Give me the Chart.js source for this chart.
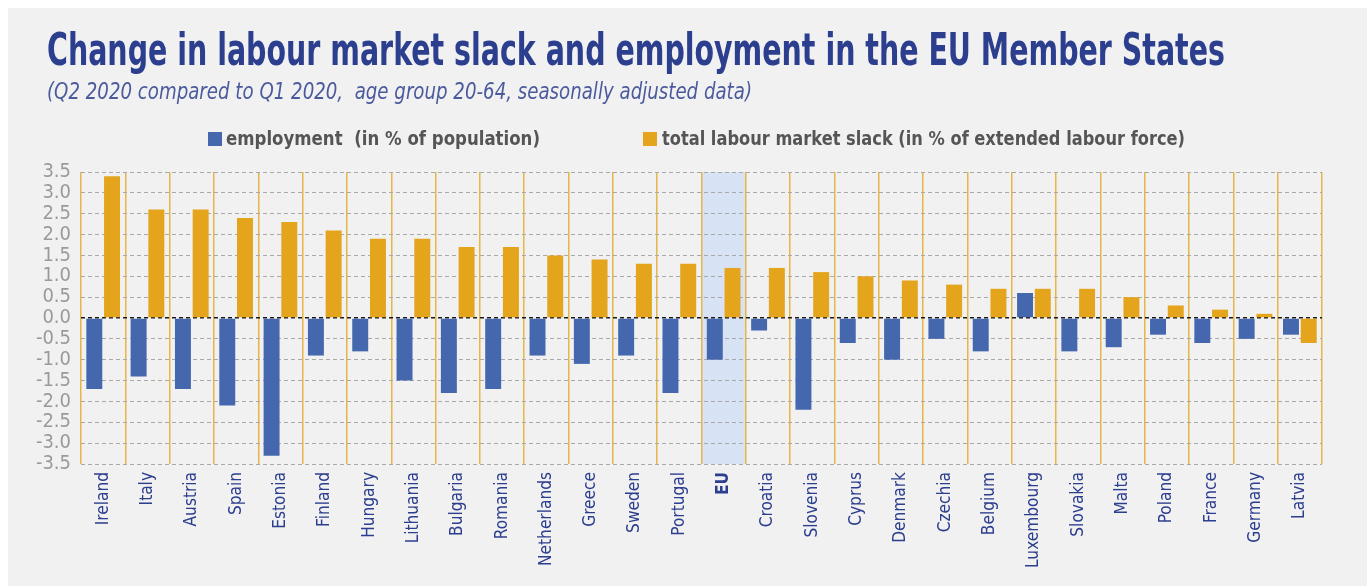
<!DOCTYPE html>
<html>
<head>
<meta charset="utf-8">
<script src="https://cdn.jsdelivr.net/npm/chart.js@4.4.1/dist/chart.umd.min.js"></script>
<style>
  html, body { margin: 0; padding: 0; background: #ffffff; width: 1370px; height: 586px; overflow: hidden; }
  #panel { position: absolute; left: 8px; top: 8px; width: 1359px; height: 578px; background: #f1f1f1; }
  #chart { position: absolute; left: 0; top: 0; }
  .txt { position: absolute; white-space: pre; line-height: 1; transform-origin: 0 0; }
  #title { color: #2c3e8e; font-weight: bold; }
  #subtitle { color: #4b5a9c; font-style: italic; font-weight: 300; }
  .leg { color: #555555; font-weight: bold; }
  .sq { position: absolute; width: 14px; height: 14px; }
</style>
</head>
<body>
<div id="panel"></div>
<canvas id="chart" width="1370" height="586"></canvas>
<div id="title" class="txt">Change in labour market slack and employment in the EU Member States</div>
<div id="subtitle" class="txt">(Q2 2020 compared to Q1 2020,  age group 20-64, seasonally adjusted data)</div>
<div id="sq1" class="sq"></div>
<div id="leg1" class="txt leg">employment  (in % of population)</div>
<div id="sq2" class="sq"></div>
<div id="leg2" class="txt leg">total labour market slack (in % of extended labour force)</div>
<script>
// ---- data ----
const categories = ['Ireland','Italy','Austria','Spain','Estonia','Finland','Hungary','Lithuania','Bulgaria','Romania','Netherlands','Greece','Sweden','Portugal','EU','Croatia','Slovenia','Cyprus','Denmark','Czechia','Belgium','Luxembourg','Slovakia','Malta','Poland','France','Germany','Latvia'];
const employment = [-1.7,-1.4,-1.7,-2.1,-3.3,-0.9,-0.8,-1.5,-1.8,-1.7,-0.9,-1.1,-0.9,-1.8,-1.0,-0.3,-2.2,-0.6,-1.0,-0.5,-0.8,0.6,-0.8,-0.7,-0.4,-0.6,-0.5,-0.4];
const slack = [3.4,2.6,2.6,2.4,2.3,2.1,1.9,1.9,1.7,1.7,1.5,1.4,1.3,1.3,1.2,1.2,1.1,1.0,0.9,0.8,0.7,0.7,0.7,0.5,0.3,0.2,0.1,-0.6];
const yTickValues = [-3.5,-3.0,-2.5,-2.0,-1.5,-1.0,-0.5,0.0,0.5,1.0,1.5,2.0,2.5,3.0,3.5];
const seriesNames = ['employment  (in % of population)', 'total labour market slack (in % of extended labour force)'];
const highlightCategory = 'EU';

const BLUE = '#4467ae';
const GOLD = '#e4a41c';

// ---- font detection ----
function hasFont(name) {
  const c = document.createElement('canvas').getContext('2d');
  const s = 'abcdefghijklmnopqrstuvwxyz0123456789';
  c.font = '40px monospace';
  const a = c.measureText(s).width;
  c.font = '40px "' + name + '", monospace';
  const b = c.measureText(s).width;
  return Math.abs(a - b) > 0.5;
}
let NARROW = 'Roboto';
for (const f of ['Liberation Sans Narrow', 'DejaVu Sans Condensed', 'Roboto Condensed']) {
  if (hasFont(f)) { NARROW = f; break; }
}
const FAM = '"' + NARROW + '", "Liberation Sans", Roboto, sans-serif';

function measure(text, size, weight) {
  const c = document.createElement('canvas').getContext('2d');
  c.font = (weight || 'normal') + ' ' + size + 'px ' + FAM;
  return c.measureText(text).width;
}
let xFontSize = 20 * 94 / measure('Netherlands', 20);
xFontSize = Math.max(15, Math.min(22, xFontSize));
const yFontSize = 20;

// ---- HTML texts ----
function place(id, left, baseline, size, targetWidth) {
  const el = document.getElementById(id);
  el.style.fontFamily = FAM;
  el.style.fontSize = size + 'px';
  el.style.left = left + 'px';
  el.style.top = (baseline - 0.85 * size) + 'px';
  const w = el.getBoundingClientRect().width;
  el.style.transform = 'scaleX(' + (targetWidth / w) + ')';
}
place('title', 47, 65, 45, 1178);
place('subtitle', 47, 100, 23, 705);
place('leg1', 226, 145, 20, 314);
place('leg2', 662, 145, 20, 523);
const sq1 = document.getElementById('sq1');
sq1.style.left = '208px'; sq1.style.top = '132px'; sq1.style.background = BLUE;
const sq2 = document.getElementById('sq2');
sq2.style.left = '643px'; sq2.style.top = '132px'; sq2.style.background = GOLD;

// ---- plugins ----
const highlightPlugin = {
  id: 'highlight',
  beforeDraw(chart) {
    const x = chart.scales.x, y = chart.scales.y;
    const idx = categories.indexOf(highlightCategory);
    if (idx < 0) return;
    const step = (x.right - x.left) / categories.length;
    const cx = x.getPixelForValue(idx);
    const top = y.getPixelForValue(yTickValues[yTickValues.length - 1]);
    const bottom = y.getPixelForValue(yTickValues[0]);
    const ctx = chart.ctx;
    ctx.save();
    ctx.fillStyle = '#d7e3f4';
    ctx.fillRect(cx - step / 2, top, step, bottom - top);
    ctx.restore();
  }
};

new Chart(document.getElementById('chart'), {
  type: 'bar',
  data: {
    labels: categories,
    datasets: [
      { label: seriesNames[0], data: employment, backgroundColor: BLUE, categoryPercentage: 0.8, barPercentage: 0.9 },
      { label: seriesNames[1], data: slack, backgroundColor: GOLD, categoryPercentage: 0.8, barPercentage: 0.9 }
    ]
  },
  options: {
    responsive: false,
    devicePixelRatio: 1,
    animation: false,
    layout: { padding: { left: 20, right: 48, top: 172, bottom: 0 } },
    plugins: { legend: { display: false }, title: { display: false }, tooltip: { enabled: false } },
    scales: {
      x: {
        grid: { offset: true, color: '#e8b547', lineWidth: 1.5, drawTicks: false },
        border: { display: false },
        ticks: {
          autoSkip: false, minRotation: 90, maxRotation: 90, padding: 8,
          color: '#2c3e8e',
          font: (ctx) => ({ family: FAM, size: xFontSize, weight: (ctx.tick && ctx.tick.label === highlightCategory) ? 'bold' : 'normal' })
        },
        afterFit(scale) { scale.height = 122; }
      },
      y: {
        min: yTickValues[0], max: yTickValues[yTickValues.length - 1],
        afterBuildTicks(scale) { scale.ticks = yTickValues.map(v => ({ value: v })); },
        grid: {
          color: (ctx) => (ctx.tick && ctx.tick.value === 0) ? '#1a1a1a' : '#a9a9a9',
          lineWidth: (ctx) => (ctx.tick && ctx.tick.value === 0) ? 1.5 : 1,
          drawTicks: false
        },
        border: { display: false, dash: [4, 3] },
        ticks: {
          autoSkip: false,
          padding: 10, color: '#9a9a9a',
          font: { family: FAM, size: yFontSize },
          callback: (v) => Number(v).toFixed(1)
        },
        afterFit(scale) { scale.width = 61; }
      }
    }
  },
  plugins: [highlightPlugin]
});
</script>
</body>
</html>
